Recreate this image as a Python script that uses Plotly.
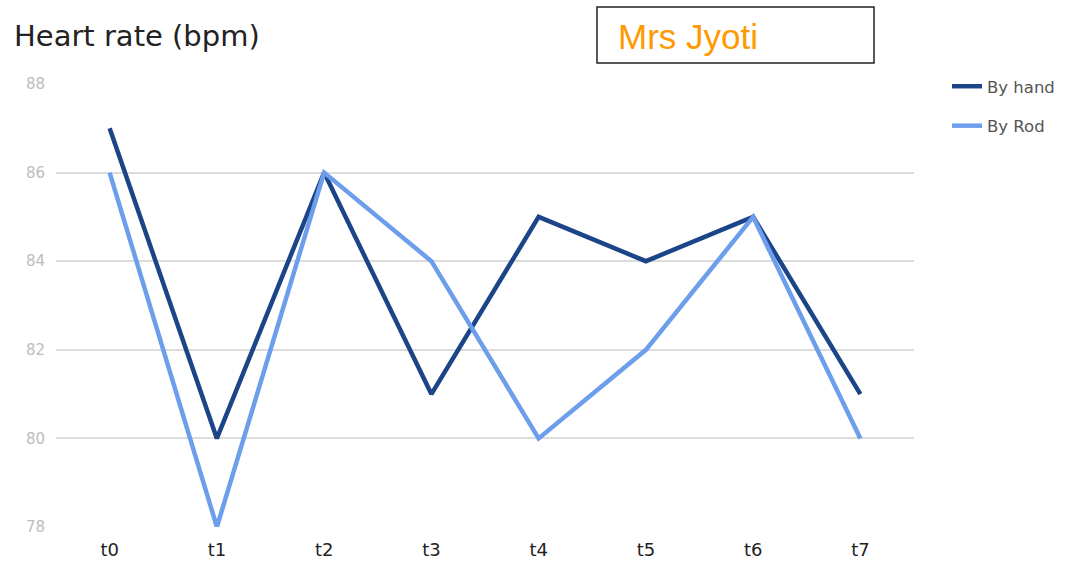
import plotly.graph_objects as go

categories = ["t0", "t1", "t2", "t3", "t4", "t5", "t6", "t7"]
by_hand = [87, 80, 86, 81, 85, 84, 85, 81]
by_rod = [86, 78, 86, 84, 80, 82, 85, 80]
y_ticks = [78, 80, 82, 84, 86, 88]

W, H = 1071, 561
L, R, T, B = 56, 157, 84, 34
pw, ph = W - L - R, H - T - B


def px_x(px):
    return (px - L) / pw


def px_y(py):
    return (H - B - py) / ph


fig = go.Figure()
fig.add_trace(go.Scatter(
    x=categories, y=by_hand, name="By hand", mode="lines",
    line=dict(color="#1c4587", width=4.5), legendgroup="a",
))
fig.add_trace(go.Scatter(
    x=categories, y=by_rod, name="By Rod", mode="lines",
    line=dict(color="#6d9eeb", width=4.5), legendgroup="b",
))

# name box at top right
fig.add_shape(type="rect", xref="paper", yref="paper",
              x0=px_x(597), x1=px_x(874), y0=px_y(63), y1=px_y(7),
              line=dict(color="#222222", width=1.5), fillcolor="white")
fig.add_annotation(text="Mrs Jyoti", xref="paper", yref="paper",
                   x=px_x(616), y=px_y(36), xanchor="left", yanchor="middle",
                   showarrow=False,
                   font=dict(family="Liberation Sans, Arial", size=35, color="#ff9900"))

fig.update_layout(
    width=W, height=H,
    margin=dict(l=L, r=R, t=T, b=B, autoexpand=False),
    paper_bgcolor="white", plot_bgcolor="white",
    title=dict(text="Heart rate (bpm)", x=14 / W, xanchor="left",
               y=1 - 36 / H, yanchor="middle",
               font=dict(family="DejaVu Sans", size=29, color="#222222")),
    xaxis=dict(range=[-0.5, 7.5], showgrid=False, showline=False, zeroline=False,
               ticks="", ticklabelstandoff=10, automargin=False,
               tickfont=dict(family="DejaVu Sans", size=18, color="#222222")),
    yaxis=dict(range=[78, 88], tickvals=y_ticks, showgrid=True, gridcolor="#dcdcdc",
               gridwidth=2, zeroline=False, showline=False, ticks="",
               ticklabelstandoff=10, automargin=False,
               tickfont=dict(family="DejaVu Sans", size=15, color="#bdbdbd")),
    legend=dict(x=px_x(947), y=px_y(69), xanchor="left", yanchor="top",
                tracegroupgap=15, itemwidth=30,
                font=dict(family="DejaVu Sans", size=16.5, color="#555555"),
                bgcolor="rgba(0,0,0,0)"),
)

fig.write_html("out.html")
